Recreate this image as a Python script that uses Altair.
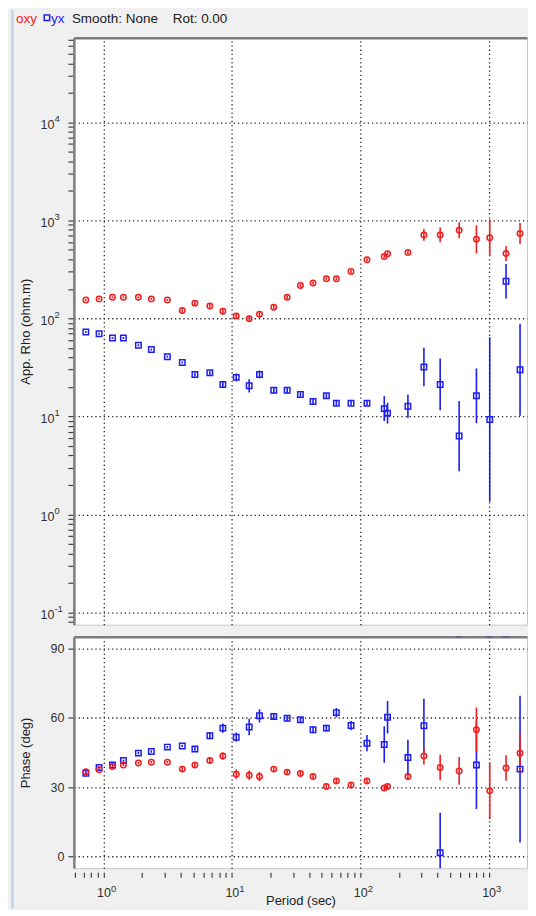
import altair as alt
import pandas as pd

# ---------------- data ----------------
period = [0.729, 0.924, 1.175, 1.43, 1.871, 2.36, 3.146, 4.11, 5.155, 6.74, 8.51,
          10.82, 13.65, 16.42, 21.21, 26.97, 34.2, 42.9, 54.5, 65.2, 84.8, 112.9,
          153.9, 163.3, 235.3, 313.5, 419.6, 589.7, 804.0, 1021.0, 1368.0, 1758.0]

rho_xy = [154, 158, 164, 164, 164, 158, 154, 120, 143, 134, 118, 106, 99, 110, 130, 164,
          216, 229, 254, 254, 301, 396, 428, 456, 470, 710, 710, 791, 640, 666, 459, 736]
rho_xy_err = [0.01, 0.01, 0.01, 0.01, 0.01, 0.01, 0.01, 0.02, 0.02, 0.02, 0.03, 0.03,
              0.03, 0.03, 0.02, 0.02, 0.015, 0.015, 0.015, 0.015, 0.015, 0.015, 0.015,
              0.015, 0.015, 0.06, 0.076, 0.082, 0.144, 0.186, 0.076, 0.107]

rho_yx = [72.7, 69.8, 63.1, 63.1, 53.2, 48.1, 40.6, 35.5, 26.8, 27.9, 21.2, 25.0, 20.5,
          26.8, 18.5, 18.5, 16.7, 14.2, 16.2, 13.6, 13.6, 13.6, 12.0, 10.8, 12.7, 31.9,
          21.2, 6.3, 16.2, 9.3, 239, 29.9]
rho_yx_err = [0.01, 0.01, 0.01, 0.01, 0.01, 0.01, 0.01, 0.01, 0.02, 0.02, 0.035, 0.04,
              0.068, 0.04, 0.03, 0.03, 0.02, 0.025, 0.025, 0.025, 0.025, 0.025, 0.127,
              0.107, 0.12, 0.196, 0.264, 0.358, 0.279, 0.839, 0.176, 0.47]

phase_xy = [36.7, 37.5, 38.9, 39.6, 40.4, 40.8, 40.8, 37.8, 39.6, 41.5, 43.5, 35.6, 35.2,
            34.6, 37.8, 36.5, 35.9, 34.6, 30.3, 32.7, 30.9, 32.7, 29.6, 30.3, 34.6, 43.5,
            38.5, 37.0, 54.8, 28.4, 38.3, 44.7]
phase_xy_err = [0.5, 0.5, 0.5, 0.5, 0.5, 0.5, 0.5, 1.2, 1.2, 1.2, 1.5, 2.0, 2.0, 2.0, 1.0,
                1.0, 1.0, 1.0, 1.0, 1.0, 1.0, 1.0, 1.0, 1.0, 1.5, 3.7, 5.5, 6.0, 9.6, 12.3,
                5.5, 8.0]

phase_yx = [36.0, 38.5, 39.6, 41.5, 44.7, 45.4, 47.3, 47.8, 46.5, 52.2, 55.5, 51.6, 56.0,
            60.8, 60.5, 59.8, 59.1, 54.8, 55.5, 62.2, 56.6, 49.0, 48.4, 60.2, 42.8, 56.5,
            1.7, 96.3, 39.6, 96.3, 96.3, 37.8]
phase_yx_err = [0.5, 0.5, 0.5, 0.5, 0.5, 0.5, 0.5, 0.5, 0.8, 1.5, 2.0, 2.0, 3.6, 2.9, 1.5,
                1.2, 1.2, 1.5, 1.5, 2.0, 2.0, 3.5, 7.9, 7.0, 7.7, 11.7, 17.3, 0.5, 19.0,
                0.5, 0.5, 31.7]

rho_major = [0.1, 1, 10, 100, 1000, 10000]
rho_exponents = ["-1", "0", "1", "2", "3", "4"]
period_major = [1, 10, 100, 1000]
period_exponents = ["0", "1", "2", "3"]
phase_ticks = [0, 30, 60, 90]
header = ["oxy", "yx", "Smooth: None", "Rot: 0.00"]

# ---------------- helpers ----------------
FONT = "Liberation Sans"
RED = "#f01e1e"
BLUE = "#1e1ef0"
FRAME = "#7d7d7d"
W, H1, H2 = 454, 588, 232

X_DOM = [0.588, 1992]
RHO_DOM = [0.075, 72800]
PH_DOM = [-5, 95]

rho_minor = [m * d for d in [0.01, 0.1, 1, 10, 100, 1000, 10000] for m in range(2, 10)]
rho_ticks = sorted([v for v in rho_minor if RHO_DOM[0] <= v <= RHO_DOM[1]] + rho_major)
per_minor = [m * d for d in [0.1, 1, 10, 100, 1000] for m in range(2, 10)]
per_ticks = sorted([v for v in per_minor if X_DOM[0] <= v <= X_DOM[1]] + period_major)

DECADE = "abs(log(datum.value)/LN10 - round(log(datum.value)/LN10)) < 0.001"
BASE_LABEL = f"{DECADE} ? '10' : ''"


def exp_expr(values, labels):
    parts = [f"abs(datum.value - {v}) < {v * 1e-6} ? '{l}'" for v, l in zip(values, labels)]
    return " : ".join(parts) + " : ''"


GRID = dict(grid=True, gridColor="#2a2a2a", gridDash=[1.3, 2.9], gridWidth=1.3)

d = pd.DataFrame({
    "period": period,
    "rho_xy": rho_xy, "rho_xy_err": rho_xy_err,
    "rho_yx": rho_yx, "rho_yx_err": rho_yx_err,
    "phase_xy": phase_xy, "phase_xy_err": phase_xy_err,
    "phase_yx": phase_yx, "phase_yx_err": phase_yx_err,
})
d["rxy_lo"] = d.rho_xy / 10 ** d.rho_xy_err
d["rxy_hi"] = d.rho_xy * 10 ** d.rho_xy_err
d["ryx_lo"] = d.rho_yx / 10 ** d.rho_yx_err
d["ryx_hi"] = d.rho_yx * 10 ** d.rho_yx_err
d["pxy_lo"] = d.phase_xy - d.phase_xy_err
d["pxy_hi"] = d.phase_xy + d.phase_xy_err
d["pyx_lo"] = d.phase_yx - d.phase_yx_err
d["pyx_hi"] = d.phase_yx + d.phase_yx_err

xs = alt.Scale(type="log", domain=X_DOM, nice=False)
ys_rho = alt.Scale(type="log", domain=RHO_DOM, nice=False)
ys_ph = alt.Scale(domain=PH_DOM, nice=False)


def x_top_axis():
    return alt.Axis(orient="top", values=period_major, labels=False, ticks=False,
                    domain=True, domainColor=FRAME, domainWidth=2.5, title=None, **GRID)


# main rho axis: "10" labels, all ticks, decade grid, left frame
y_rho_axis = alt.Axis(
    orient="left", values=rho_ticks, labelExpr=BASE_LABEL,
    labelOverlap=False, labelFlush=False, tickSize=6, tickColor="#444", tickWidth=1.2,
    labelPadding=14, labelAlign="right", labelOffset=2, labelFontSize=12.5,
    domainColor=FRAME, domainWidth=2.5,
    gridOpacity={"condition": {"test": DECADE, "value": 1}, "value": 0},
    title="App. Rho (ohm.m)", titleX=-48, titleY=H1 / 2, titleAngle=270,
    titleBaseline="middle", titleAlign="center", **GRID)
# exponent axis for rho
y_rho_exp_axis = alt.Axis(
    orient="left", values=rho_major, labelExpr=exp_expr(rho_major, rho_exponents),
    labelOverlap=False, labelFlush=False, tickSize=6, tickOpacity=0, domain=False,
    grid=False, labelPadding=14, labelAlign="left", labelOffset=-4, labelFontSize=9.5,
    title=None)

y_ph_axis = alt.Axis(
    orient="left", values=phase_ticks, tickSize=6, tickColor="#444", tickWidth=1.2,
    labelPadding=4, labelFontSize=12.5, domainColor=FRAME, domainWidth=2.5, labelFlush=False,
    title="Phase (deg)", titleX=-48, titleY=H2 / 2, titleAngle=270,
    titleBaseline="middle", titleAlign="center", **GRID)

x_bot_axis = alt.Axis(
    orient="bottom", values=per_ticks, labelExpr=BASE_LABEL,
    labelOverlap=False, labelFlush=False, tickSize=5, tickColor="#444", tickWidth=1.2,
    offset=4, domain=False, grid=False, labelPadding=9, labelFontSize=12.5,
    labelAlign="center", title="Period (sec)", titleY=22, titleBaseline="top")
x_bot_exp_axis = alt.Axis(
    orient="bottom", values=period_major, labelExpr=exp_expr(period_major, period_exponents),
    labelOverlap=False, labelFlush=False, tickSize=5, tickOpacity=0, offset=4,
    domain=False, grid=False, labelPadding=6, labelFontSize=9.5, labelAlign="left",
    labelOffset=7, title=None)

base = alt.Chart(d)

# ---------------- top panel: apparent resistivity ----------------
t_err_xy = base.mark_rule(color=RED, strokeWidth=1.6).encode(
    x=alt.X("period:Q", scale=xs, axis=x_top_axis()),
    y=alt.Y("rxy_lo:Q", scale=ys_rho, axis=y_rho_axis),
    y2="rxy_hi:Q")
t_err_yx = base.mark_rule(color=BLUE, strokeWidth=1.6).encode(
    x=alt.X("period:Q", scale=xs, axis=None),
    y=alt.Y("ryx_lo:Q", scale=ys_rho, axis=y_rho_exp_axis),
    y2="ryx_hi:Q")
t_pts_xy = base.mark_point(shape="circle", filled=False, color=RED, size=30,
                           strokeWidth=1.5, opacity=1).encode(
    x=alt.X("period:Q", scale=xs, axis=None),
    y=alt.Y("rho_xy:Q", scale=ys_rho, axis=None))
t_pts_yx = base.mark_point(shape="square", filled=False, color=BLUE, size=30,
                           strokeWidth=1.5, opacity=1).encode(
    x=alt.X("period:Q", scale=xs, axis=None),
    y=alt.Y("rho_yx:Q", scale=ys_rho, axis=None))

one = pd.DataFrame({"k": [1]})
strip = alt.Chart(one).mark_rect(color="#c4d8ee").encode(
    x=alt.value(-63), x2=alt.value(-60), y=alt.value(-28), y2=alt.value(872))


def htext(i, xpx, color):
    return alt.Chart(pd.DataFrame({"t": [header[i]]})).mark_text(
        align="left", baseline="alphabetic", font=FONT, fontSize=13.5, color=color
    ).encode(text="t:N", x=alt.value(xpx), y=alt.value(-15))


h_sym = alt.Chart(one).mark_point(shape="square", filled=False, color=BLUE, size=30,
                                  strokeWidth=1.5, opacity=1).encode(
    x=alt.value(-27), y=alt.value(-20))

top = alt.layer(
    t_err_xy, t_err_yx, t_pts_xy, t_pts_yx, strip,
    htext(0, -58, RED), h_sym, htext(1, -23, BLUE),
    htext(2, -2, "#202020"), htext(3, 99, "#202020"),
).resolve_axis(x="independent", y="independent").properties(width=W, height=H1)

# ---------------- bottom panel: phase ----------------
b_err_xy = base.mark_rule(color=RED, strokeWidth=1.6, clip=True).encode(
    x=alt.X("period:Q", scale=xs, axis=x_top_axis()),
    y=alt.Y("pxy_lo:Q", scale=ys_ph, axis=y_ph_axis),
    y2="pxy_hi:Q")
b_err_yx = base.mark_rule(color=BLUE, strokeWidth=1.6, clip=True).encode(
    x=alt.X("period:Q", scale=xs, axis=x_bot_axis),
    y=alt.Y("pyx_lo:Q", scale=ys_ph, axis=None),
    y2="pyx_hi:Q")
b_pts_xy = base.mark_point(shape="circle", filled=False, color=RED, size=30,
                           strokeWidth=1.5, opacity=1, clip=True).encode(
    x=alt.X("period:Q", scale=xs, axis=x_bot_exp_axis),
    y=alt.Y("phase_xy:Q", scale=ys_ph, axis=None))
b_pts_yx = base.mark_point(shape="square", filled=False, color=BLUE, size=30,
                           strokeWidth=1.5, opacity=1, clip=True).encode(
    x=alt.X("period:Q", scale=xs, axis=None),
    y=alt.Y("phase_yx:Q", scale=ys_ph, axis=None))

bottom = alt.layer(b_err_yx, b_err_xy, b_pts_yx, b_pts_xy).resolve_axis(
    x="independent", y="independent").properties(width=W, height=H2)

chart = alt.vconcat(top, bottom, spacing=12, bounds="flush").properties(
    padding={"left": 2, "top": 0, "right": 0, "bottom": 0},
    background="#f0f0f0",
).configure_view(
    stroke="#c8c8c8", strokeWidth=1, fill="white"
).configure_axis(
    labelFont=FONT, titleFont=FONT, labelColor="#303030", titleColor="#202020",
    labelFontSize=12, titleFontSize=13, titleFontWeight="normal",
)

chart.save("out.html", embed_options={"renderer": "svg", "actions": False})
